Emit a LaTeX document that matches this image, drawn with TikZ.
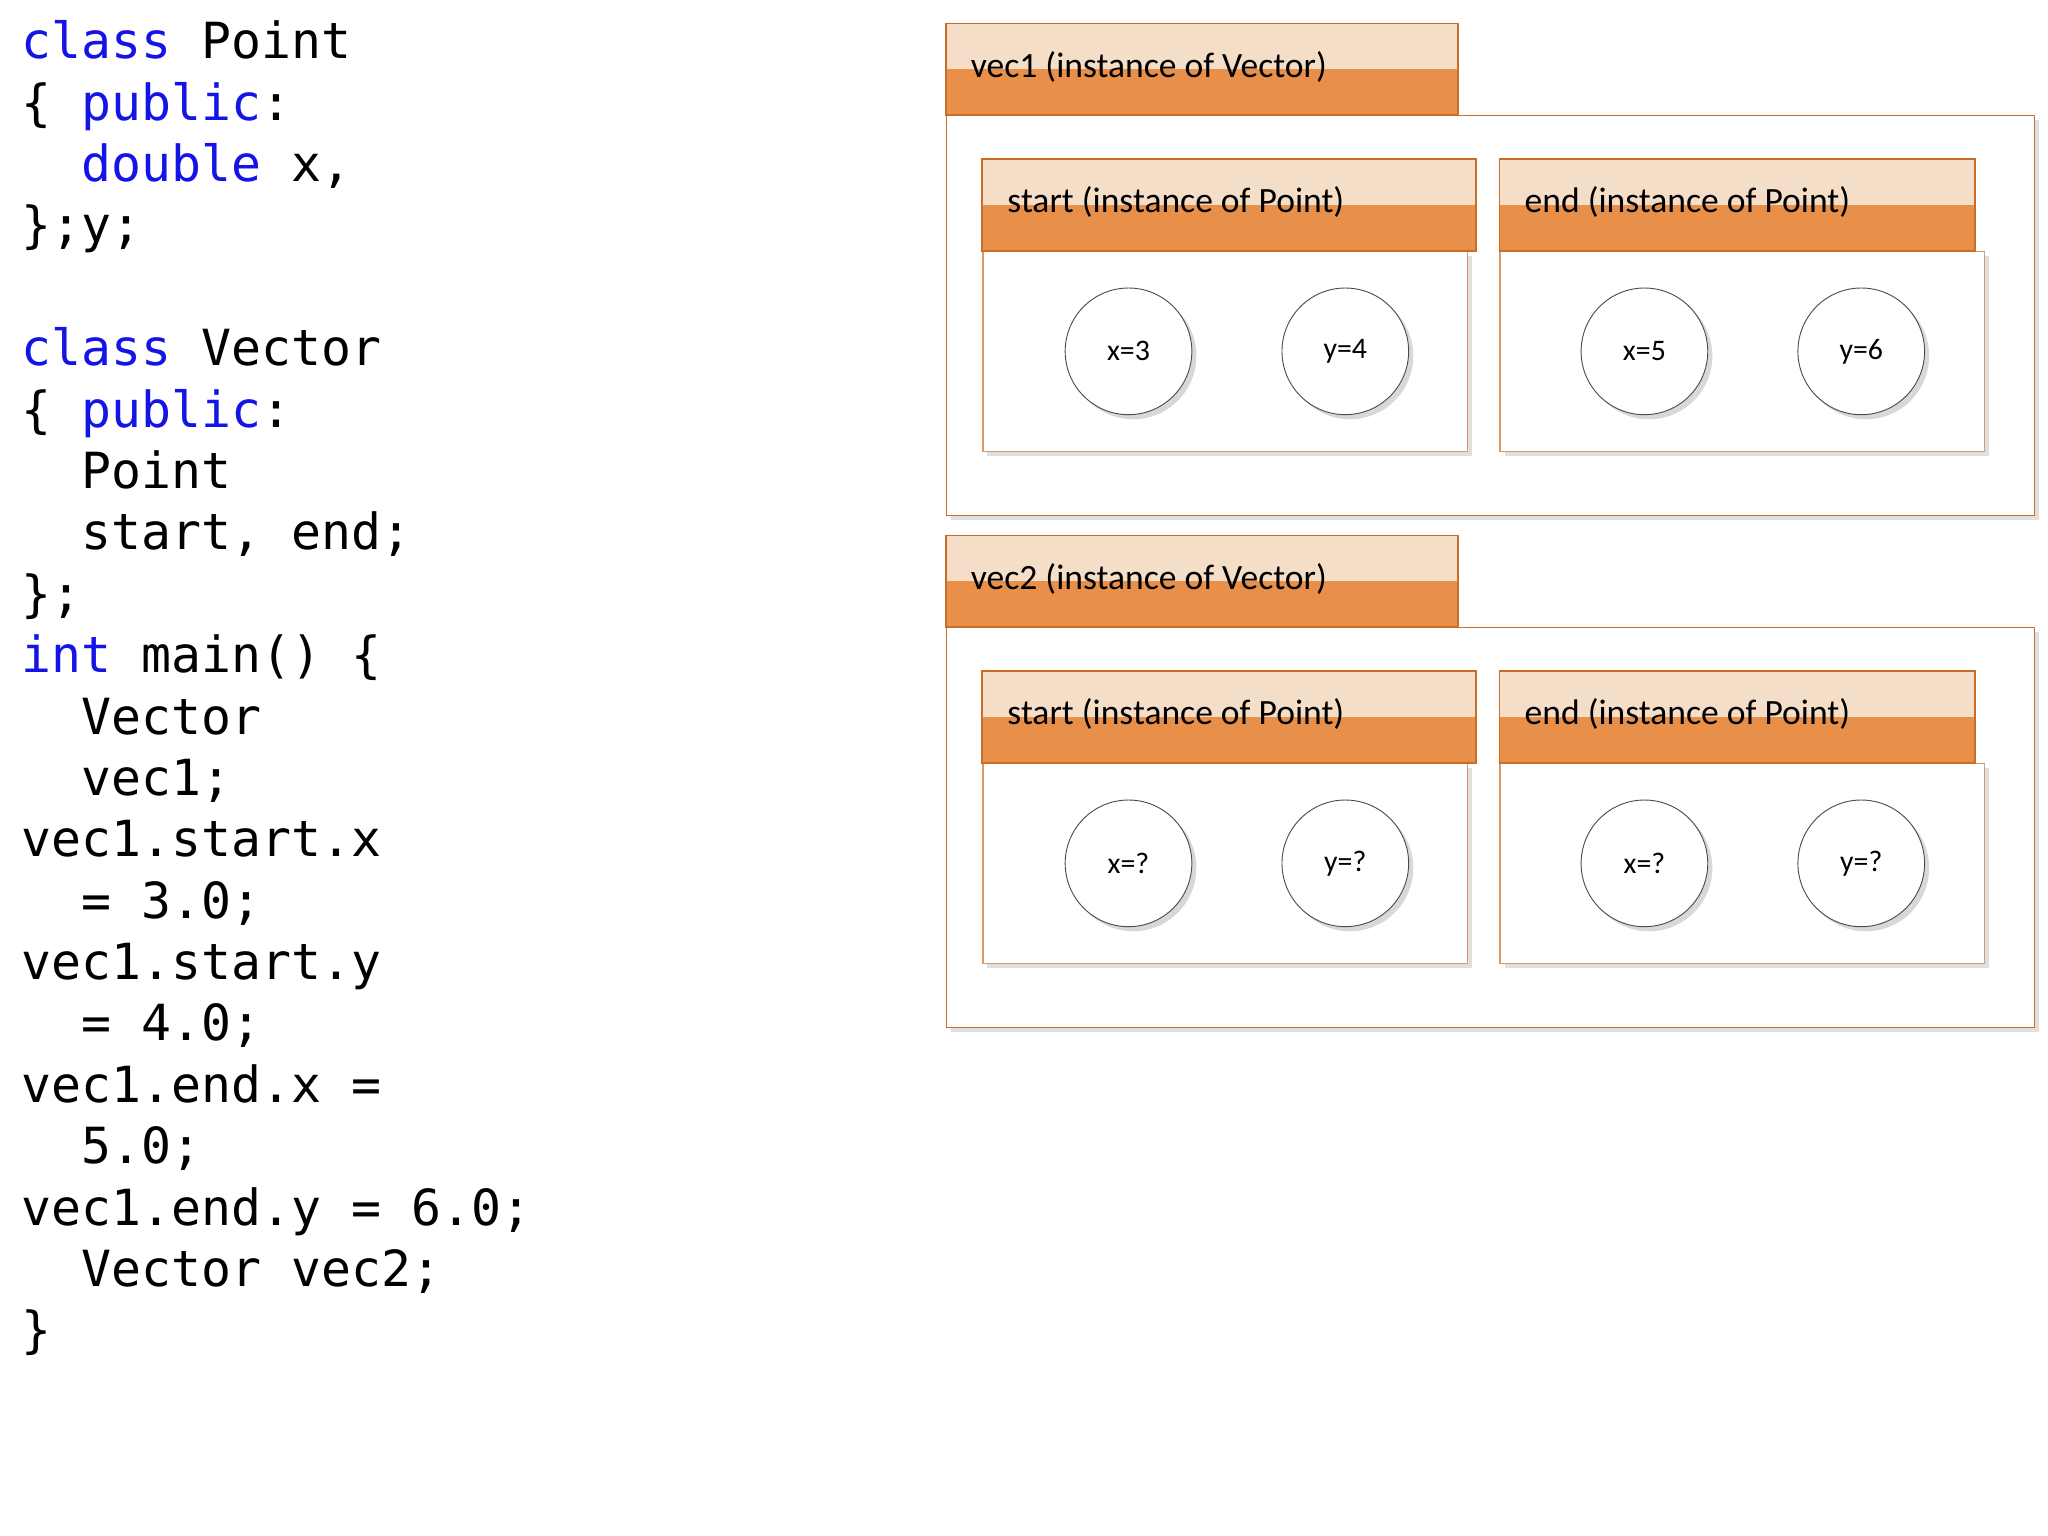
\documentclass[tikz,border=0pt]{standalone}
\usepackage{fontspec}
\setmainfont{Carlito}
\setmonofont{DejaVu Sans Mono}
\usetikzlibrary{shadows}
\definecolor{kw}{RGB}{20,20,230}
\definecolor{tabdark}{RGB}{232,144,74}
\definecolor{tablight}{RGB}{245,222,200}
\definecolor{bord}{RGB}{200,110,40}
\tikzset{
  box/.style={draw=bord!70,fill=white,line width=0.6pt,drop shadow={shadow xshift=2pt,shadow yshift=-2pt,opacity=0.25}},
  val/.style={circle,draw=black!70,fill=white,minimum size=1.94cm,font=\fontsize{13}{15}\selectfont,drop shadow={shadow xshift=2pt,shadow yshift=-2pt,opacity=0.3}},
  lbl/.style={anchor=base west,font=\fontsize{15.5}{18}\selectfont,inner sep=0pt},
  code/.style={anchor=base west,inner sep=0pt,font=\fontsize{21.7}{26}\selectfont\ttfamily}
}
\newcommand{\kw}[1]{\textcolor{kw}{#1}}
\newcommand{\tabbox}[5]{% name x1 y1 x2 text
  \fill[tablight] (#2,#3) rectangle (#4,#3+35);
  \fill[tabdark] (#2,#3+35) rectangle (#4,#3+70);
  \draw[bord,line width=0.8pt] (#2,#3) rectangle (#4,#3+70);
  \node[lbl] (#1) at (#2+19,#3+41) {#5};
}
\begin{document}
\begin{tikzpicture}[x=0.02cm,y=-0.02cm]
\useasboundingbox (0,0) rectangle (1568,1176);
% code
\foreach \t [count=\i] in {
 {\kw{class} Point},
 {\{ \kw{public}:},
 {\ \ \kw{double} x,},
 {\};y;},
 {},
 {\kw{class} Vector},
 {\{ \kw{public}:},
 {\ \ Point},
 {\ \ start, end;},
 {\};},
 {\kw{int} main() \{},
 {\ \ Vector},
 {\ \ vec1;},
 {vec1.start.x},
 {\ \ = 3.0;},
 {vec1.start.y},
 {\ \ = 4.0;},
 {vec1.end.x =},
 {\ \ 5.0;},
 {vec1.end.y = 6.0;},
 {\ \ Vector vec2;},
 {\}}}
 \node[code] (c\i) at (16,45+47*\i-47) {\strut\t};
% vectors
\foreach \v/\dy/\a/\b/\c/\d in {1/0/3/4/5/6, 2/392/?/?/?/?}{
  \begin{scope}[yshift=-\dy*0.02cm]
  \node[box,draw=bord,minimum width=833*0.02cm,minimum height=306*0.02cm,anchor=north west,inner sep=0pt] (vb\v) at (724,88) {};
  \tabbox{vt\v}{724}{18}{1116}{vec\v\ (instance of Vector)}
  \node[box,minimum width=371*0.02cm,minimum height=153*0.02cm,anchor=north west,inner sep=0pt] (sb\v) at (752,192) {};
  \tabbox{st\v}{752}{122}{1130}{start (instance of Point)}
  \node[box,minimum width=371*0.02cm,minimum height=153*0.02cm,anchor=north west,inner sep=0pt] (eb\v) at (1148,192) {};
  \tabbox{et\v}{1148}{122}{1512}{end (instance of Point)}
  \node[val] (sx\v) at (864,269) {x=\a};
  \node[val] (sy\v) at (1030,269) {y=\b};
  \node[val] (ex\v) at (1259,269) {x=\c};
  \node[val] (ey\v) at (1425,269) {y=\d};
  \end{scope}
}
\end{tikzpicture}
\end{document}
